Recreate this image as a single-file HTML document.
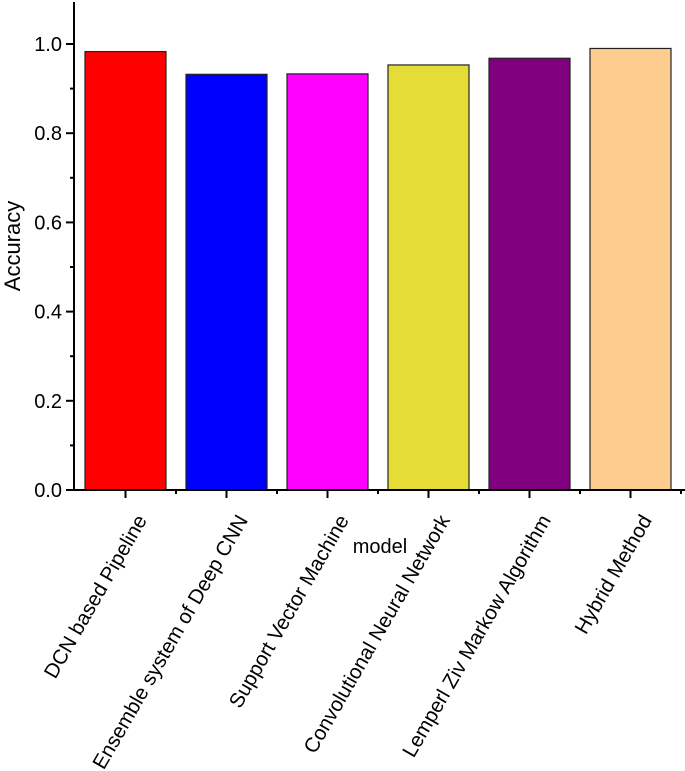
<!DOCTYPE html>
<html><head><meta charset="utf-8"><style>
body{margin:0;background:#fff;}
svg{display:block;font-family:"Liberation Sans",Arial,sans-serif;}
</style></head><body>
<svg id="chart" width="685" height="771"></svg>
<script>
const categories=["DCN based Pipeline","Ensemble system of Deep CNN","Support Vector Machine","Convolutional Neural Network","Lemperl Ziv Markow Algorithm","Hybrid Method"];
const values=[0.983,0.932,0.933,0.953,0.968,0.990];
const colors=["#ff0000","#0000ff","#ff00ff","#e6dc37","#800080","#ffcc90"];
const yTicks=[0.0,0.2,0.4,0.6,0.8,1.0];
const yTickLabels=["0.0","0.2","0.4","0.6","0.8","1.0"];
const NS="http://www.w3.org/2000/svg";
const svg=document.getElementById('chart');
const x0=74,y0=490,yScale=446,step=101,barW=81,firstC=125.5;
function y(v){return y0-v*yScale;}
function xc(i){return firstC+i*step;}
function el(t,a,p){const e=document.createElementNS(NS,t);for(const k in a)e.setAttribute(k,a[k]);(p||svg).appendChild(e);return e;}
const bars=el('g',{});


values.forEach((v,i)=>{
  const r=el('rect',{x:xc(i)-barW/2,y:y(v),width:barW,height:y0-y(v),fill:colors[i],stroke:'#222','stroke-width':1.2},bars);
  
  
});
const ax=el('g',{stroke:'#000','stroke-width':2,fill:'none'});


el('line',{x1:x0,y1:2,x2:x0,y2:y0+1},ax);
el('line',{x1:x0-1,y1:y0,x2:685,y2:y0},ax);
yTicks.forEach((t,i)=>{
  el('line',{x1:x0-8,y1:y(t),x2:x0,y2:y(t)},ax);
  if(i<yTicks.length-1) el('line',{x1:x0-4,y1:y(t+0.1),x2:x0,y2:y(t+0.1)},ax);
  const tx=el('text',{x:x0-12,y:y(t)+7,'text-anchor':'end','font-size':20,fill:'#000'});
  tx.textContent=yTickLabels[i];
  
  
});
categories.forEach((c,i)=>{
  el('line',{x1:xc(i),y1:y0,x2:xc(i),y2:y0+8},ax);
  el('line',{x1:xc(i)+step/2,y1:y0,x2:xc(i)+step/2,y2:y0+4},ax);
  const tx=el('text',{transform:`translate(${xc(i)+22},${y0+30}) rotate(-60)`,'text-anchor':'end','font-size':20.5,fill:'#000'});
  tx.textContent=c;
  
  
});
const xt=el('text',{x:380,y:553,'text-anchor':'middle','font-size':20,fill:'#000'});
xt.textContent='model';


const yt=el('text',{transform:'translate(20,246) rotate(-90)','text-anchor':'middle','font-size':22,fill:'#000'});
yt.textContent='Accuracy';


</script>
</body></html>
